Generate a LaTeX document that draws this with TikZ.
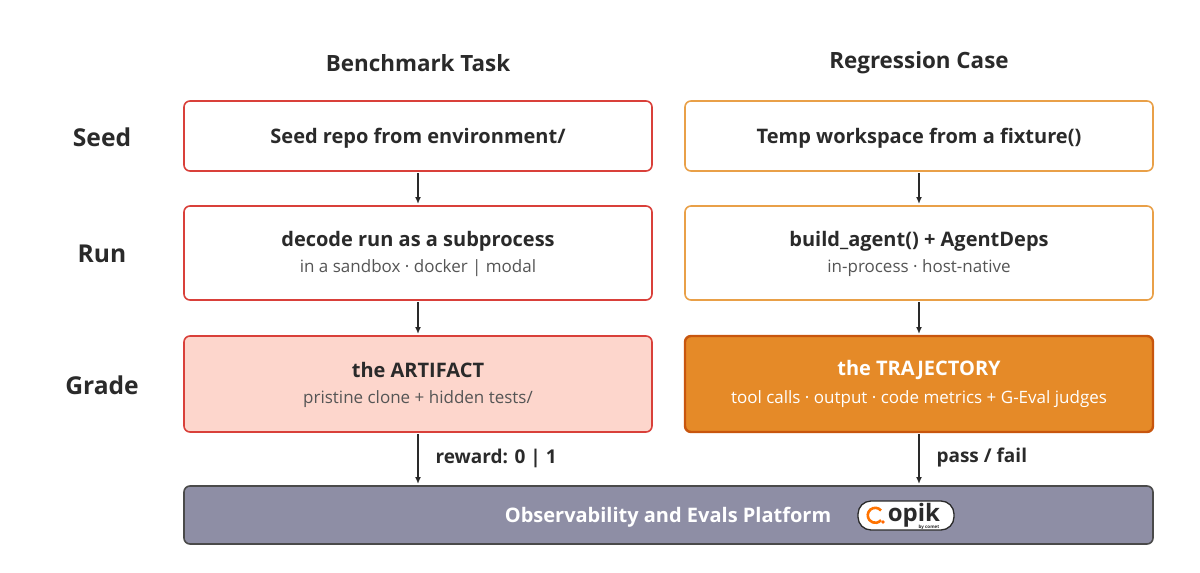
\documentclass[tikz,border=0pt]{standalone}
\usepackage{fontspec}
\setmainfont{Open Sans}
\usetikzlibrary{arrows.meta}
\definecolor{redb}{HTML}{D9403A}
\definecolor{redf}{HTML}{FDD6CC}
\definecolor{orb}{HTML}{E9A048}
\definecolor{orf}{HTML}{E58A28}
\definecolor{ord}{HTML}{C8560E}
\definecolor{plat}{HTML}{8E8EA5}
\definecolor{txt}{HTML}{2A2A2A}
\begin{document}
\begin{tikzpicture}[x=1pt,y=-1pt,
  box/.style={draw, line width=1.6pt, rounded corners=6pt, fill=white},
  title/.style={font=\bfseries\fontsize{20}{24}\selectfont, text=txt},
  sub/.style={font=\fontsize{17}{20}\selectfont, text=txt!80},
  hdr/.style={font=\bfseries\fontsize{22.4}{26}\selectfont, text=txt},
  row/.style={font=\bfseries\fontsize{24.6}{28}\selectfont, text=txt},
  arr/.style={-{Latex[length=7pt,width=6pt]}, line width=1.4pt, draw=txt},
  lab/.style={font=\bfseries\fontsize{19}{22}\selectfont, text=txt, anchor=west}]
\path[use as bounding box] (0,0) rectangle (1200,573);
\node[hdr] (h1) at (418,63) {Benchmark Task};
\node[hdr] (h2) at (919,63) {Regression Case};
\node[row] (rs) at (102,137) {Seed};
\node[row] (rr) at (102,254) {Run};
\node[row] (rg) at (102,385) {Grade};
% left
\draw[box, draw=redb] (184,101) rectangle (652,171);
\node[title] (ls) at (418,138) {Seed repo from environment/};
\draw[box, draw=redb] (184,206) rectangle (652,300);
\node[title] (lr) at (418,241) {decode run as a subprocess};
\node[sub] at (418,268) {in a sandbox · docker | modal};
\draw[box, draw=redb, fill=redf] (184,336) rectangle (652,432);
\node[title] (lg) at (418,370) {the ARTIFACT};
\node[sub] at (418,399) {pristine clone + hidden tests/};
% right
\draw[box, draw=orb] (685,101) rectangle (1153,171);
\node[title] at (919,138) {Temp workspace from a fixture()};
\draw[box, draw=orb] (685,206) rectangle (1153,300);
\node[title] at (919,241) {build\_agent() + AgentDeps};
\node[sub] at (919,268) {in-process · host-native};
\draw[box, draw=ord, fill=orf, line width=2.4pt] (685,336) rectangle (1153,432);
\node[title, text=white] at (919,370) {the TRAJECTORY};
\node[sub, text=white] at (919,399) {tool calls · output · code metrics + G-Eval judges};
% platform
\draw[box, draw=txt!85, fill=plat] (184,486) rectangle (1153,544);
\node[title, text=white] (pl) at (668,517) {Observability and Evals Platform};
% logo
\draw[fill=white, draw=txt, line width=1.3pt, rounded corners=13pt] (858,501) rectangle (954,530);
\draw[line width=2.6pt, draw=orange!90!red] (881,510.5) arc[start angle=40, end angle=320, radius=7.5pt];
\fill[orange!80!red] (883,522) circle (1.9pt);
\node[font=\bfseries\fontsize{24}{26}\selectfont, text=txt, anchor=base] at (914,521) {opik};
\node[font=\bfseries\fontsize{4.5}{5}\selectfont, text=txt] at (929,527) {by comet};
% arrows
\coordinate (a1) at (418,173); \coordinate (a2) at (418,204);
\coordinate (a3) at (418,302); \coordinate (a4) at (418,334);
\coordinate (a5) at (418,434); \coordinate (a6) at (418,484);
\coordinate (b1) at (919,173); \coordinate (b2) at (919,204);
\coordinate (b3) at (919,302); \coordinate (b4) at (919,334);
\coordinate (b5) at (919,434); \coordinate (b6) at (919,484);
\draw[arr] (a1) -- (a2); \draw[arr] (a3) -- (a4); \draw[arr] (a5) -- (a6);
\draw[arr] (b1) -- (b2); \draw[arr] (b3) -- (b4); \draw[arr] (b5) -- (b6);
\node[lab] at (432,458) {reward: 0 | 1};
\node[lab] at (933,458) {pass / fail};
\end{tikzpicture}
\end{document}
